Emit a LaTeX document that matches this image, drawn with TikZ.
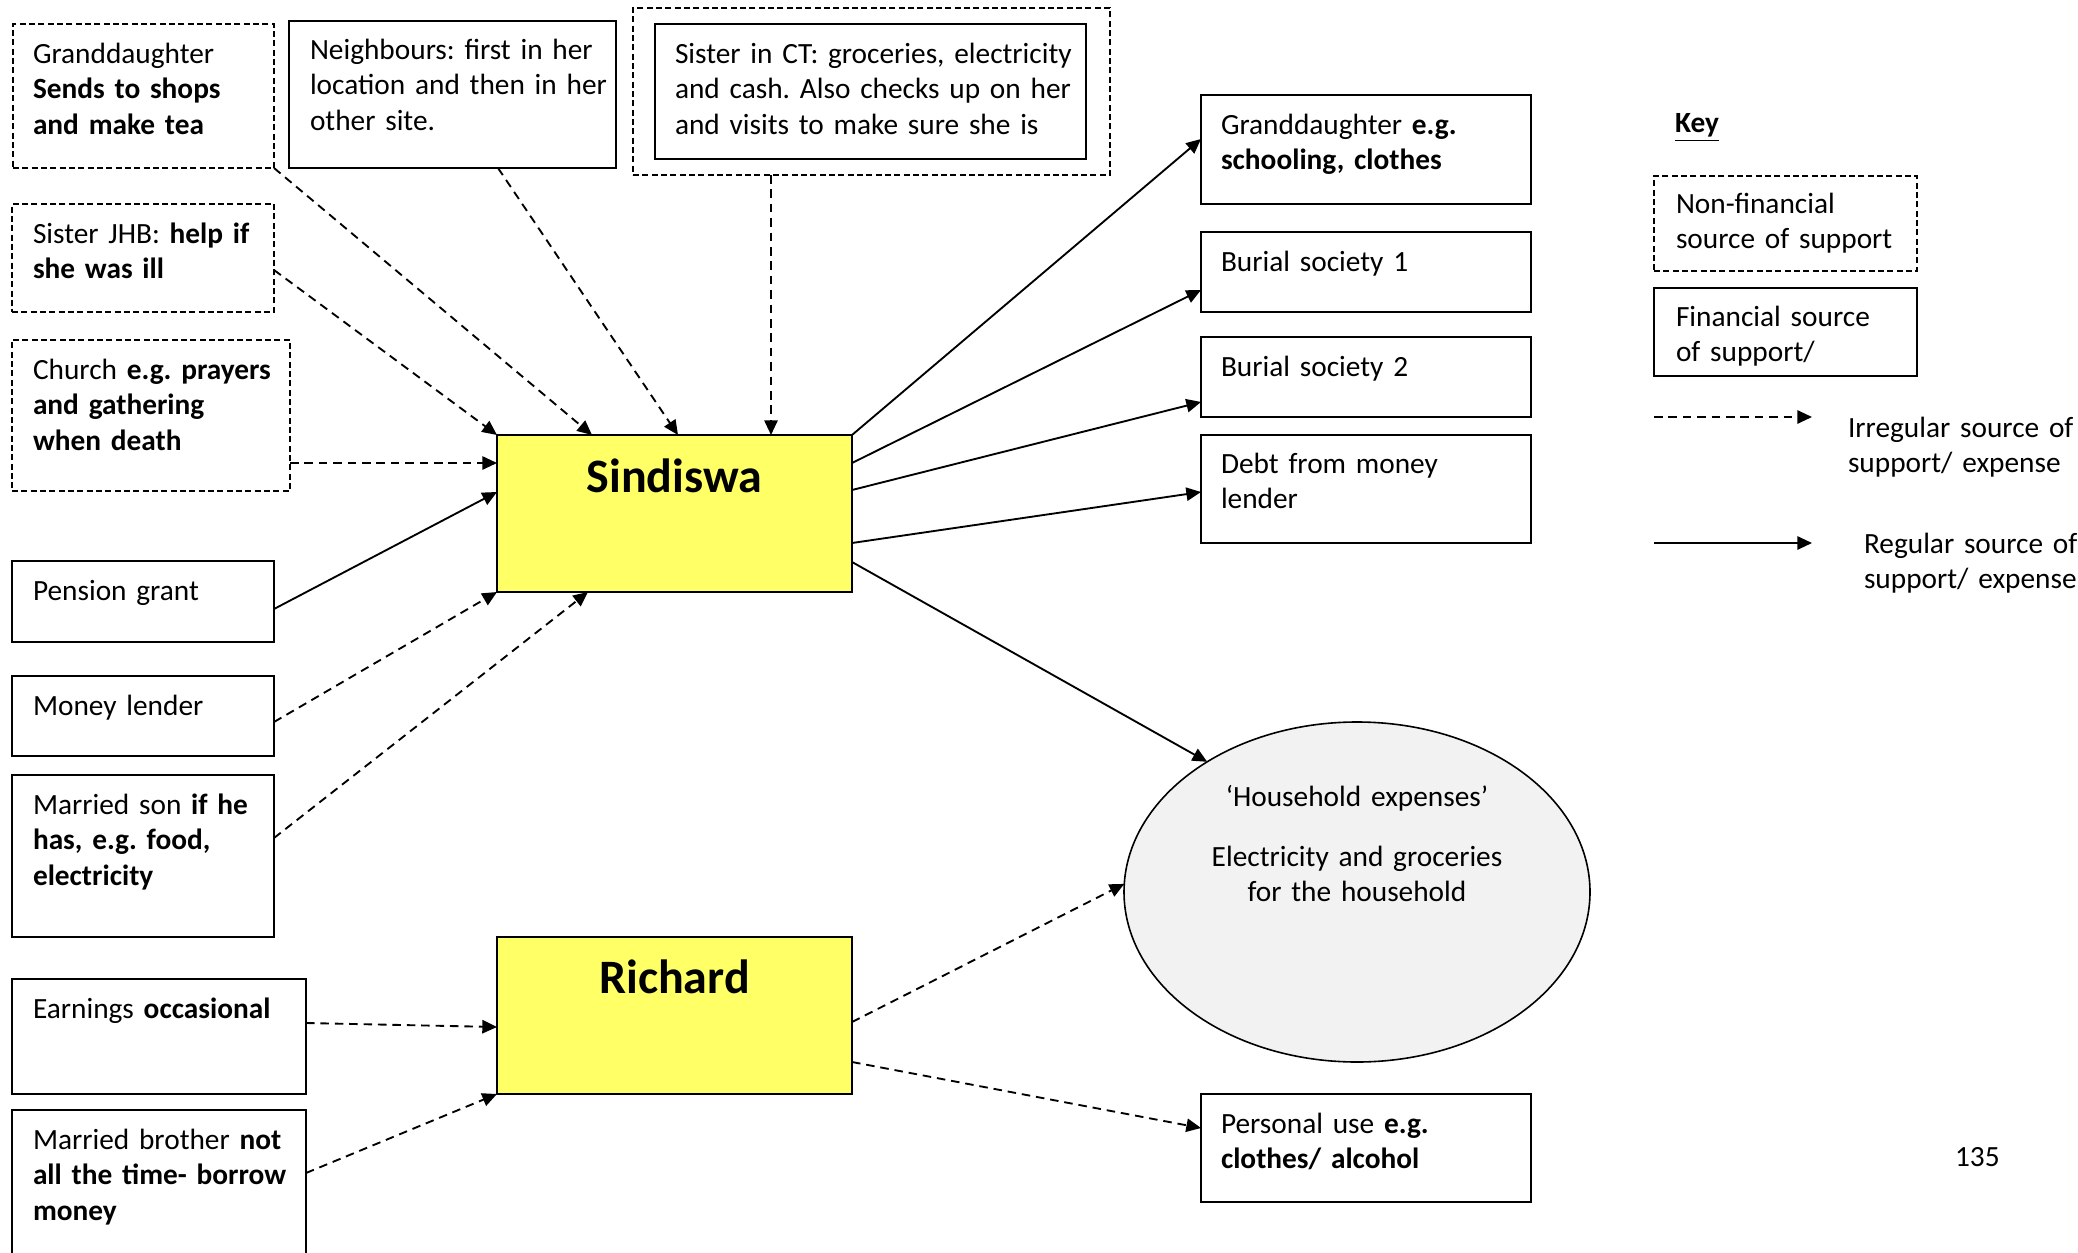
\documentclass[tikz,border=0pt]{standalone}
\usepackage{fontspec}
\setmainfont{Carlito}
\usetikzlibrary{arrows.meta,calc,shapes.geometric}
\definecolor{boxyellow}{HTML}{FFFF66}
\definecolor{hhgrey}{HTML}{F2F2F2}
\frenchspacing

% \boxnode{style}{name}{x1}{y1}{x2}{y2}: a rectangle node spanning two corners
\newcommand\boxnode[6]{%
  \node[#1, minimum width={(#5-#3)*0.375pt}, minimum height={(#6-#4)*0.375pt}] (#2) at (#3,#4) {};}

\begin{document}
\begin{tikzpicture}[x=0.375pt,y=-0.375pt,
  every node/.style={outer sep=0pt, inner sep=0pt},
  frame/.style={draw, line width=0.8pt, rectangle, anchor=north west},
  nonfin/.style={frame, dash pattern=on 2.2pt off 1.3pt},
  fin/.style={frame},
  person/.style={frame, fill=boxyellow, line width=0.75pt},
  txt/.style={font=\fontsize{11}{13.4}\selectfont, text width=200pt, align=left, anchor=base west},
  ctxt/.style={font=\fontsize{11}{13.4}\selectfont, text width=200pt, align=center, anchor=base},
  pname/.style={font=\fontsize{18}{22}\selectfont\bfseries, anchor=base},
  reg/.style={line width=0.7pt, -{Triangle[length=5.5pt,width=5pt]}},
  irr/.style={reg, dash pattern=on 3.2pt off 2.2pt}
]
\useasboundingbox (0,0) rectangle (2078,1253);
\clip (0,0) rectangle (2078,1253);

% ---- sources on the left and top ----
\boxnode{nonfin}{gdl}{13}{24}{274}{168}
\node[txt] (gdl-t) at ([shift={(20,39)}]gdl.north west)
  {Granddaughter\\ \textbf{Sends to shops}\\ \textbf{and make tea}};

\boxnode{fin}{nb}{289}{21}{616}{168}
\node[txt] (nb-t) at ([shift={(21,38)}]nb.north west)
  {Neighbours: first in her\\ location and then in her\\ other site.};

\boxnode{nonfin}{ctout}{633}{8}{1110}{175}
\boxnode{fin}{ctin}{655}{24}{1086}{159}
\node[txt] (ct-t) at ([shift={(20,39)}]ctin.north west)
  {Sister in CT: groceries, electricity\\ and cash. Also checks up on her\\ and visits to make sure she is};

\boxnode{nonfin}{jhb}{12}{204}{274}{312}
\node[txt] (jhb-t) at ([shift={(21,39)}]jhb.north west)
  {Sister JHB: \textbf{help if}\\ \textbf{she was ill}};

\boxnode{nonfin}{church}{12}{340}{290}{491}
\node[txt] (church-t) at ([shift={(21,39)}]church.north west)
  {Church \textbf{e.g. prayers}\\ \textbf{and gathering}\\ \textbf{when death}};

\boxnode{fin}{pen}{12}{561}{274}{642}
\node[txt] (pen-t) at ([shift={(21,39)}]pen.north west) {Pension grant};

\boxnode{fin}{ml}{12}{676}{274}{756}
\node[txt] (ml-t) at ([shift={(21,39)}]ml.north west) {Money lender};

\boxnode{fin}{son}{12}{775}{274}{937}
\node[txt] (son-t) at ([shift={(21,39)}]son.north west)
  {Married son \textbf{if he}\\ \textbf{has, e.g. food,}\\ \textbf{electricity}};

\boxnode{fin}{earn}{12}{979}{306}{1094}
\node[txt] (earn-t) at ([shift={(21,39)}]earn.north west) {Earnings \textbf{occasional}};

\boxnode{fin}{bro}{12}{1110}{306}{1290}
\node[txt] (bro-t) at ([shift={(21,39)}]bro.north west)
  {Married brother \textbf{not}\\ \textbf{all the time- borrow}\\ \textbf{money}};

% ---- the two people ----
\boxnode{person}{sind}{497}{435}{852}{592}
\node[pname] (sind-t) at ([shift={(0,57)}]sind.north) {Sindiswa};

\boxnode{person}{rich}{497}{937}{852}{1094}
\node[pname] (rich-t) at ([shift={(0,56)}]rich.north) {Richard};

% ---- expenses on the right ----
\boxnode{fin}{gdr}{1201}{95}{1531}{204}
\node[txt] (gdr-t) at ([shift={(20,39)}]gdr.north west)
  {Granddaughter \textbf{e.g.}\\ \textbf{schooling, clothes}};

\boxnode{fin}{bur1}{1201}{232}{1531}{312}
\node[txt] (bur1-t) at ([shift={(20,39)}]bur1.north west) {Burial society 1};

\boxnode{fin}{bur2}{1201}{337}{1531}{417}
\node[txt] (bur2-t) at ([shift={(20,39)}]bur2.north west) {Burial society 2};

\boxnode{fin}{debt}{1201}{435}{1531}{543}
\node[txt] (debt-t) at ([shift={(20,38)}]debt.north west) {Debt from money\\ lender};

\node[ellipse, draw, line width=0.6pt, fill=hhgrey, minimum width=466*0.375pt,
      minimum height=340*0.375pt] (hh) at (1357,892) {};
\node[ctxt] (hh-t1) at (1357,806) {‘Household expenses’};
\node[ctxt] (hh-t2) at (1357,866) {Electricity and groceries\\ for the household};

\boxnode{fin}{pers}{1201}{1094}{1531}{1202}
\node[txt] (pers-t) at ([shift={(20,39)}]pers.north west)
  {Personal use \textbf{e.g.}\\ \textbf{clothes/ alcohol}};

% ---- flows into Sindiswa ----
\draw[irr] (gdl.south east) -- ($(sind.north west)+(95,0)$);
\draw[irr] ($(nb.south west)+(209,0)$) -- ($(sind.north west)+(181,0)$);
\draw[irr] ($(ctout.south west)+(138,0)$) -- ($(sind.north west)+(274,0)$);
\draw[irr] ($(jhb.north east)+(0,66)$) -- (sind.north west);
\draw[irr] ($(church.north east)+(0,123)$) -- ($(sind.north west)+(0,28)$);
\draw[reg] ($(pen.north east)+(0,48)$) -- ($(sind.north west)+(0,57)$);
\draw[irr] ($(ml.north east)+(0,46)$) -- (sind.south west);
\draw[irr] ($(son.north east)+(0,63)$) -- ($(sind.south west)+(91,0)$);

% ---- flows into Richard ----
\draw[irr] ($(earn.north east)+(0,44)$) -- ($(rich.north west)+(0,90)$);
\draw[irr] ($(bro.north east)+(0,63)$) -- (rich.south west);

% ---- flows out of Sindiswa ----
\draw[reg] (sind.north east) -- ($(gdr.north west)+(0,44)$);
\draw[reg] ($(sind.north east)+(0,28)$) -- ($(bur1.north west)+(0,58)$);
\draw[reg] ($(sind.north east)+(0,55)$) -- ($(bur2.north west)+(0,65)$);
\draw[reg] ($(sind.north east)+(0,108)$) -- ($(debt.north west)+(0,57)$);
\draw[reg] ($(sind.north east)+(0,127)$) -- (hh.139);

% ---- flows out of Richard ----
\draw[irr] ($(rich.north east)+(0,85)$) -- (hh.178);
\draw[irr] ($(rich.north east)+(0,125)$) -- ($(pers.north west)+(0,34)$);

% ---- key ----
\node[txt] (key-t) at (1675,132) {\textbf{\underline{Key}}};
\boxnode{nonfin}{keynf}{1654}{176}{1917}{271}
\node[txt] (keynf-t) at ([shift={(22,37)}]keynf.north west) {Non-financial\\ source of support};
\boxnode{fin}{keyf}{1654}{288}{1917}{376}
\node[txt] (keyf-t) at ([shift={(22,38)}]keyf.north west) {Financial source\\ of support/};

\coordinate (ka1) at (1654,417);
\coordinate (ka2) at (1812,417);
\draw[irr] (ka1) -- (ka2);
\node[txt] (ka-t) at (1848,437) {Irregular source of\\ support/ expense};

\coordinate (kb1) at (1654,543);
\coordinate (kb2) at (1812,543);
\draw[reg] (kb1) -- (kb2);
\node[txt] (kb-t) at (1864,553) {Regular source of\\ support/ expense};

\node[txt] (page) at (1955,1166) {135};
\end{tikzpicture}
\end{document}
